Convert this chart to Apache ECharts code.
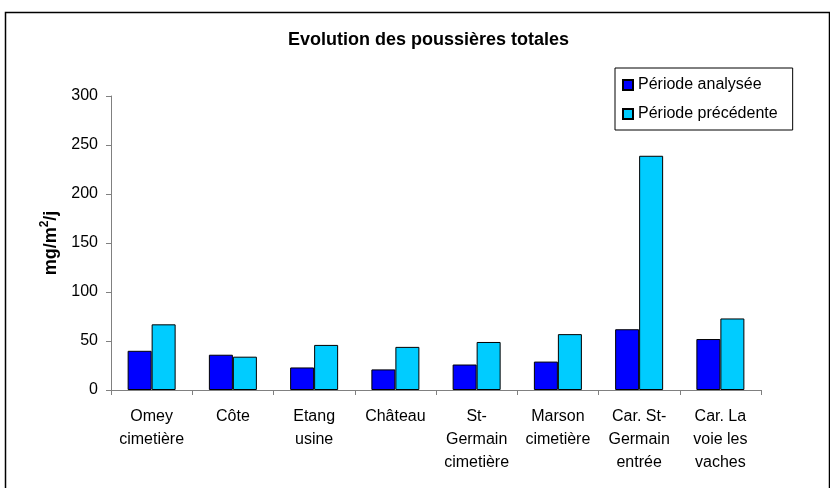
<!DOCTYPE html>
<html><head><meta charset="utf-8">
<script src="https://cdn.jsdelivr.net/npm/echarts@6/dist/echarts.min.js"></script>
<style>html,body{margin:0;padding:0;background:#fff}#c{width:830px;height:488px}</style>
</head><body><div id="c"></div>
<script>
const categories = ["Omey\ncimetière","Côte","Etang\nusine","Château","St-\nGermain\ncimetière","Marson\ncimetière","Car. St-\nGermain\nentrée","Car. La\nvoie les\nvaches"];
const periodeAnalysee = [40, 36, 23, 21, 26, 29, 62, 52];
const periodePrecedente = [67, 34, 46, 44, 49, 57, 239, 73];
const yTicks = [0, 50, 100, 150, 200, 250, 300];

const chart = echarts.init(document.getElementById('c'));
const font = 'Liberation Sans, Arial, sans-serif';
chart.setOption({
  animation: false,
  title: {
    text: 'Evolution des poussières totales',
    left: 283, top: 26,
    textStyle: { fontFamily: font, fontSize: 18, fontWeight: 'bold', color: '#000' }
  },
  legend: {
    orient: 'vertical', left: 615, top: 68,
    itemWidth: 10, itemHeight: 10, itemGap: 13,
    icon: 'rect',
    textStyle: { fontFamily: font, fontSize: 16, color: '#000' },
    padding: [9, 15, 8, 7],
    borderColor: '#000', borderWidth: 1,
    data: ['Période analysée', 'Période précédente']
  },
  graphic: [{
    type: 'rect', shape: { x: 5.5, y: 12.5, width: 824, height: 490 },
    style: { fill: 'none', stroke: '#000', lineWidth: 1.5 }, silent: true, z: -1
  }],
  grid: { left: 111, right: 69, top: 96, bottom: 98 },
  xAxis: {
    type: 'category', data: categories,
    axisLine: { lineStyle: { color: '#808080' } },
    axisTick: { show: true, length: 5, lineStyle: { color: '#808080' } },
    axisLabel: { fontFamily: font, fontSize: 16, color: '#000', lineHeight: 23, margin: 15, interval: 0 }
  },
  yAxis: {
    type: 'value', min: yTicks[0], max: yTicks[yTicks.length - 1], interval: 50,
    name: '{a|mg/m}{s|2}{a|/j}', nameLocation: 'middle', nameGap: 45,
    nameTextStyle: {
      fontFamily: font, fontSize: 18, fontWeight: 'bold', color: '#000',
      rich: {
        a: { fontFamily: font, fontSize: 18, fontWeight: 'bold', color: '#000', lineHeight: 22, verticalAlign: 'bottom' },
        s: { fontFamily: font, fontSize: 12, fontWeight: 'bold', color: '#000', lineHeight: 22, verticalAlign: 'top' }
      }
    },
    axisLine: { show: true, lineStyle: { color: '#808080' } },
    axisTick: { show: true, length: 5, lineStyle: { color: '#808080' } },
    splitLine: { show: false },
    axisLabel: { fontFamily: font, fontSize: 16, color: '#000', margin: 13 }
  },
  series: [
    { name: 'Période analysée', type: 'bar', data: periodeAnalysee, barWidth: 24, barGap: '0%',
      itemStyle: { color: '#0000FF', borderColor: '#000', borderWidth: 1 } },
    { name: 'Période précédente', type: 'bar', data: periodePrecedente, barWidth: 24, barGap: '0%',
      itemStyle: { color: '#00CCFF', borderColor: '#000', borderWidth: 1 } }
  ]
});
</script></body></html>
